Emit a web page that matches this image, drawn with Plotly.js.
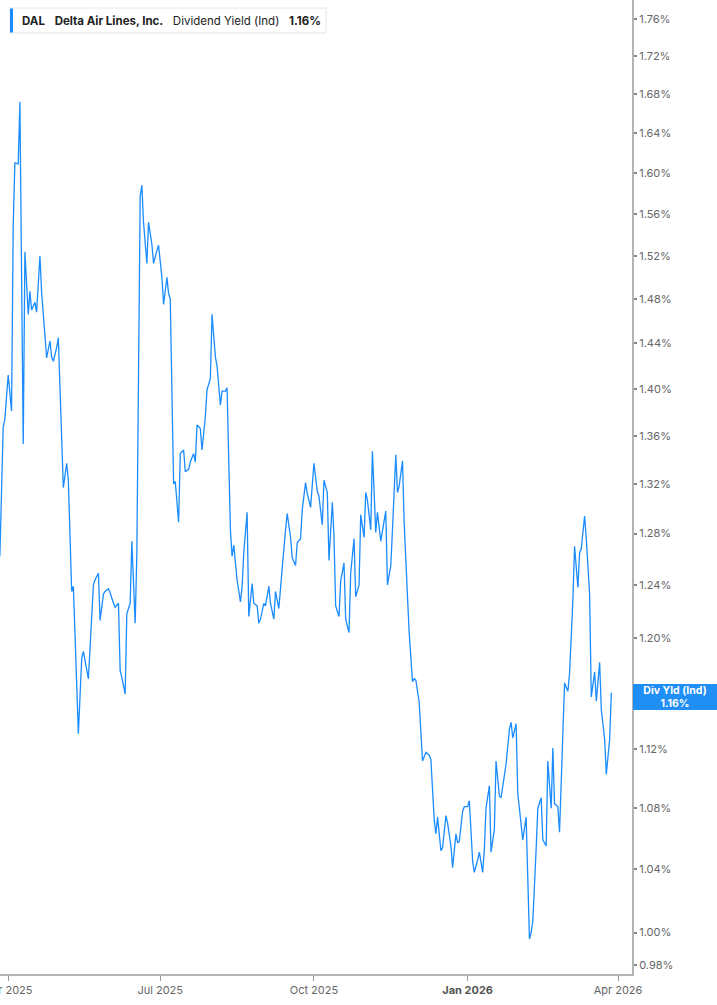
<!DOCTYPE html>
<html><head><meta charset="utf-8">
<script src="https://cdn.plot.ly/plotly-3.0.1.min.js"></script>
<style>html,body{margin:0;padding:0;background:#fff;} #chart{width:717px;height:1005px;}</style>
</head><body><div id="chart"></div>
<script>
const ticker = 'DAL';
const company = 'Delta Air Lines, Inc.';
const metric = 'Dividend Yield (Ind)';
const shortMetric = 'Div Yld (Ind)';

const dates = [
'2025-03-27','2025-03-29','2025-03-30','2025-04-01','2025-04-03','2025-04-04','2025-04-05','2025-04-07','2025-04-08','2025-04-10',
'2025-04-11','2025-04-13','2025-04-14','2025-04-15','2025-04-17','2025-04-18','2025-04-20','2025-04-21','2025-04-23','2025-04-24',
'2025-04-26','2025-04-27','2025-04-28','2025-04-30','2025-05-01','2025-05-03','2025-05-04','2025-05-06','2025-05-07','2025-05-09',
'2025-05-10','2025-05-13','2025-05-15','2025-05-16','2025-05-18','2025-05-19','2025-05-22','2025-05-23','2025-05-25','2025-05-26',
'2025-05-28','2025-05-29','2025-05-31','2025-06-01','2025-06-03','2025-06-04','2025-06-06','2025-06-07','2025-06-08','2025-06-10',
'2025-06-11','2025-06-13','2025-06-14','2025-06-16','2025-06-17','2025-06-19','2025-06-20','2025-06-21','2025-06-23','2025-06-24',
'2025-06-26','2025-06-27','2025-06-29','2025-06-30','2025-07-02','2025-07-03','2025-07-05','2025-07-06','2025-07-07','2025-07-09',
'2025-07-10','2025-07-12','2025-07-13','2025-07-15','2025-07-16','2025-07-18','2025-07-19','2025-07-21','2025-07-22','2025-07-23',
'2025-07-25','2025-07-26','2025-07-28','2025-07-29','2025-07-31','2025-08-01','2025-08-03','2025-08-04','2025-08-06','2025-08-07',
'2025-08-09','2025-08-10','2025-08-12','2025-08-13','2025-08-14','2025-08-16','2025-08-18','2025-08-19','2025-08-20','2025-08-22',
'2025-08-23','2025-08-25','2025-08-26','2025-08-28','2025-08-29','2025-08-30','2025-09-01','2025-09-02','2025-09-04','2025-09-05',
'2025-09-07','2025-09-08','2025-09-10','2025-09-11','2025-09-12','2025-09-14','2025-09-15','2025-09-17','2025-09-18','2025-09-20',
'2025-09-21','2025-09-23','2025-09-24','2025-09-26','2025-09-27','2025-09-29','2025-09-30','2025-10-01','2025-10-03','2025-10-04',
'2025-10-06','2025-10-07','2025-10-09','2025-10-10','2025-10-12','2025-10-13','2025-10-14','2025-10-16','2025-10-17','2025-10-19',
'2025-10-20','2025-10-22','2025-10-23','2025-10-25','2025-10-26','2025-10-28','2025-10-29','2025-10-31','2025-11-01','2025-11-02',
'2025-11-04','2025-11-05','2025-11-07','2025-11-08','2025-11-10','2025-11-11','2025-11-13','2025-11-14','2025-11-16','2025-11-17',
'2025-11-19','2025-11-20','2025-11-21','2025-11-23','2025-11-24','2025-11-26','2025-11-27','2025-11-29','2025-11-30','2025-12-01',
'2025-12-03','2025-12-05','2025-12-06','2025-12-07','2025-12-09','2025-12-10','2025-12-12','2025-12-13','2025-12-14','2025-12-16',
'2025-12-17','2025-12-19','2025-12-20','2025-12-22','2025-12-23','2025-12-25','2025-12-26','2025-12-27','2025-12-29','2025-12-30',
'2026-01-01','2026-01-02','2026-01-04','2026-01-05','2026-01-07','2026-01-08','2026-01-10','2026-01-11','2026-01-12','2026-01-14',
'2026-01-15','2026-01-17','2026-01-18','2026-01-20','2026-01-21','2026-01-23','2026-01-24','2026-01-26','2026-01-27','2026-01-28',
'2026-01-30','2026-01-31','2026-02-02','2026-02-03','2026-02-05','2026-02-07','2026-02-08','2026-02-09','2026-02-11','2026-02-12',
'2026-02-14','2026-02-15','2026-02-17','2026-02-18','2026-02-20','2026-02-21','2026-02-22','2026-02-24','2026-02-25','2026-02-27',
'2026-02-28','2026-03-02','2026-03-03','2026-03-05','2026-03-06','2026-03-08','2026-03-09','2026-03-10','2026-03-12','2026-03-13',
'2026-03-15','2026-03-16','2026-03-18','2026-03-19','2026-03-21','2026-03-22','2026-03-24','2026-03-25','2026-03-27','2026-03-28'
];

const divYield = [
1.262,1.367,1.374,1.412,1.381,1.548,1.610,1.609,1.672,1.353,
1.524,1.466,1.487,1.470,1.477,1.468,1.520,1.486,1.447,1.427,
1.442,1.428,1.424,1.436,1.445,1.357,1.317,1.337,1.323,1.235,
1.239,1.131,1.185,1.190,1.178,1.170,1.240,1.244,1.249,1.213,
1.233,1.235,1.237,1.234,1.226,1.223,1.226,1.176,1.171,1.159,
1.218,1.226,1.274,1.211,1.264,1.577,1.588,1.552,1.513,1.552,
1.531,1.513,1.525,1.530,1.500,1.475,1.500,1.485,1.480,1.320,
1.322,1.289,1.345,1.348,1.330,1.332,1.338,1.345,1.338,1.369,
1.366,1.348,1.376,1.399,1.409,1.466,1.428,1.420,1.386,1.398,
1.398,1.401,1.283,1.262,1.271,1.244,1.227,1.239,1.265,1.297,
1.216,1.241,1.226,1.224,1.211,1.214,1.226,1.224,1.239,1.226,
1.214,1.235,1.222,1.240,1.253,1.283,1.296,1.277,1.261,1.255,
1.273,1.276,1.299,1.321,1.312,1.301,1.323,1.337,1.314,1.310,
1.287,1.323,1.313,1.259,1.305,1.278,1.224,1.216,1.243,1.257,
1.214,1.204,1.249,1.276,1.231,1.240,1.295,1.277,1.313,1.307,
1.283,1.347,1.281,1.297,1.274,1.281,1.298,1.240,1.255,1.283,
1.344,1.313,1.318,1.339,1.289,1.231,1.204,1.168,1.170,1.169,
1.153,1.112,1.115,1.118,1.116,1.113,1.072,1.063,1.074,1.052,
1.054,1.075,1.070,1.055,1.041,1.063,1.057,1.058,1.078,1.081,
1.081,1.085,1.045,1.038,1.046,1.051,1.038,1.053,1.080,1.095,
1.051,1.066,1.112,1.088,1.087,1.103,1.110,1.134,1.139,1.128,
1.138,1.090,1.068,1.059,1.074,0.996,1.000,1.007,1.053,1.080,
1.087,1.059,1.055,1.112,1.080,1.121,1.083,1.081,1.064,1.143,
1.167,1.161,1.174,1.229,1.270,1.238,1.265,1.268,1.294,1.276,
1.233,1.157,1.175,1.154,1.182,1.148,1.127,1.103,1.127,1.160
];

const yTickVals = [0.98,1.00,1.04,1.08,1.12,1.16,1.20,1.24,1.28,1.32,1.36,1.40,1.44,1.48,1.52,1.56,1.60,1.64,1.68,1.72,1.76];
const xTickVals = ['2025-04-01','2025-07-01','2025-10-01','2026-01-01','2026-04-01'];
const xTickText = ['Apr 2025','Jul 2025','Oct 2025','<b><span style="color:#555">Jan 2026</span></b>','Apr 2026'];

const fmt = v => v.toFixed(2) + '%';
const lastVal = divYield[divYield.length - 1];
// the tick hidden under the last-value tag keeps its mark but no text
const yTickText = yTickVals.map(v => Math.abs(v - lastVal) < 0.005 ? '' : fmt(v));
const FONT = 'Inter, "Noto Sans", sans-serif';
const BLUE = '#1a8cff';

const PW = 632, PH = 974; // plot area in pixels
const px = v => v / PW;
const py = v => 1 - v / PH;

const trace = {
  x: dates, y: divYield, type: 'scatter', mode: 'lines',
  line: {color: BLUE, width: 1.3}, hoverinfo: 'skip'
};

const layout = {
  width: 717, height: 1005,
  margin: {l: 0, r: 85, t: 0, b: 31},
  paper_bgcolor: '#ffffff', plot_bgcolor: '#ffffff',
  showlegend: false,
  font: {family: FONT, size: 11, color: '#666'},
  xaxis: {
    type: 'date',
    range: ['2025-03-27 02:12', '2026-04-09 09:00'],
    tickvals: xTickVals, ticktext: xTickText,
    ticklabeloverflow: 'allow',
    showgrid: false, zeroline: false,
    showline: true, linecolor: '#b3b3b3', linewidth: 2,
    ticks: 'outside', ticklen: 5, tickcolor: '#999', tickwidth: 1,
    tickfont: {family: FONT, size: 11, color: '#666'}
  },
  yaxis: {
    type: 'log', side: 'right',
    range: [-0.01114, 0.25062],
    tickvals: yTickVals, ticktext: yTickText,
    showgrid: false, zeroline: false,
    showline: true, linecolor: '#b3b3b3', linewidth: 2,
    ticks: 'outside', ticklen: 3, tickcolor: '#888', tickwidth: 2,
    tickfont: {family: FONT, size: 11, color: '#666'}
  },
  shapes: [
    {type: 'rect', xref: 'paper', yref: 'paper', layer: 'above',
     x0: px(10), x1: px(326), y0: py(33), y1: py(8),
     fillcolor: '#ffffff', line: {color: '#e6e6e6', width: 1}},
    {type: 'rect', xref: 'paper', yref: 'paper', layer: 'above',
     x0: px(10), x1: px(13), y0: py(32.5), y1: py(8.5),
     fillcolor: BLUE, line: {width: 0}}
  ],
  annotations: [
    {xref: 'paper', yref: 'paper', x: px(20), y: py(20.5), xanchor: 'left', yanchor: 'middle',
     showarrow: false, align: 'left',
     text: '<b>' + ticker + '</b>&nbsp;&nbsp;&nbsp;<b>' + company + '</b>&nbsp;&nbsp;&nbsp;' + metric + '&nbsp;&nbsp;&nbsp;<b>' + fmt(lastVal) + '</b>',
     font: {family: FONT, size: 11.5, color: '#222'}},
    {xref: 'paper', yref: 'y', x: 1, y: Math.log10(lastVal), xanchor: 'left', yanchor: 'middle',
     xshift: 1, yshift: -4, showarrow: false, align: 'center',
     text: '<b>' + shortMetric + '<br>' + fmt(lastVal) + '</b>',
     font: {family: FONT, size: 10.5, color: '#ffffff'},
     bgcolor: '#1f8ef5', width: 80, height: 22, borderpad: 2, borderwidth: 0}
  ]
};

Plotly.newPlot('chart', [trace], layout, {displayModeBar: false, staticPlot: true});
</script>
</body></html>
